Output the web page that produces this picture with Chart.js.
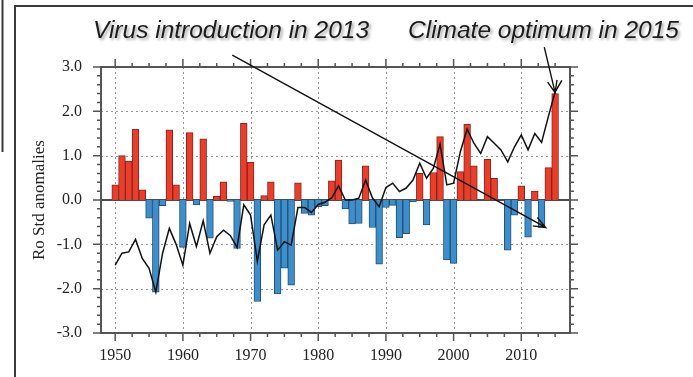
<!DOCTYPE html>
<html>
<head>
<meta charset="utf-8">
<script src="https://cdn.jsdelivr.net/npm/chart.js@4/dist/chart.umd.min.js"></script>
<style>
  html, body { margin: 0; padding: 0; background: #fff; }
  #wrap { width: 693px; height: 377px; position: relative; }
</style>
</head>
<body>
<div id="wrap"><canvas id="chart"></canvas></div>
<script>
// ── DATA ───────────────────────────────────────────────────
const barYears = [];
for (let y = 1950; y <= 2015; y++) barYears.push(y);
const barValues = [
  0.34, 1.0, 0.88, 1.6, 0.23, -0.41, -2.08, -0.13, 1.58, 0.34,
  -1.07, 1.52, -0.11, 1.38, -0.86, 0.08, 0.41, -0.03, -1.09, 1.73,
  0.85, -2.29, 0.1, 0.41, -2.12, -1.54, -1.92, 0.39, -0.3, -0.34,
  -0.15, -0.13, 0.43, 0.9, -0.2, -0.54, -0.53, 0.77, -0.62, -1.45,
  -0.17, -0.12, -0.85, -0.76, -0.04, 0.6, -0.56, 0.62, 1.43, -1.35,
  -1.43, 0.64, 1.71, 0.77, 0.0, 0.92, 0.49, 0.0, -1.13, -0.34,
  0.32, -0.84, 0.2, -0.62, 0.73, 2.4
];
const lineYears = [];
for (let y = 1950; y <= 2016; y++) lineYears.push(y);
const lineValues = [
  -1.47, -1.2, -1.17, -0.89, -1.32, -1.54, -2.08, -1.2, -0.64, -1.0,
  -1.47, -0.53, -1.05, -0.47, -1.2, -0.83, -0.68, -0.8, -1.07, -0.11,
  -0.34, -1.38, -0.56, -0.34, -1.13, -0.94, -1.02, -0.17, -0.17, -0.28,
  -0.1, -0.05, 0.05, 0.32, 0.0, 0.0, 0.04, 0.45, 0.05, -0.15,
  0.28, 0.38, 0.19, 0.27, 0.45, 0.83, 0.49, 0.71, 1.26, 0.34,
  0.38, 1.09, 1.6, 1.28, 1.05, 1.43, 1.28, 1.13, 0.86, 1.2,
  1.47, 1.13, 1.5, 1.3, 1.88, 2.44, 2.7
];
const xTicks = [1950, 1960, 1970, 1980, 1990, 2000, 2010];
const yTicks = [-3, -2, -1, 0, 1, 2, 3];
const yLabel = 'Ro Std anomalies';

// annotations: text + arrows (arrows in data coords: [year, value])
const notes = [
  { text: 'Virus introduction in 2013', x: 93, y: 38, from: [1967.3, 3.27], to: [2013.6, -0.62] },
  { text: 'Climate optimum in 2015', x: 408, y: 38, from: [2013.4, 3.45], to: [2015.0, 2.42] }
];

// ── COLOURS ────────────────────────────────────────────────
const RED = 'rgb(232,62,44)', RED_EDGE = 'rgb(140,35,25)';
const BLUE = 'rgb(62,142,202)', BLUE_EDGE = 'rgb(30,80,125)';
const AXIS = '#555';

// ── PLUGIN: grid, frame, minor ticks, annotations ──────────
function arrow(ctx, x1, y1, x2, y2) {
  const a = Math.atan2(y2 - y1, x2 - x1), len = 13, spread = 0.38;
  ctx.beginPath();
  ctx.moveTo(x1, y1); ctx.lineTo(x2, y2);
  ctx.moveTo(x2 - len * Math.cos(a - spread), y2 - len * Math.sin(a - spread));
  ctx.lineTo(x2, y2);
  ctx.lineTo(x2 - len * Math.cos(a + spread), y2 - len * Math.sin(a + spread));
  ctx.stroke();
}

const framePlugin = {
  id: 'frame',
  beforeDatasetsDraw(chart) {
    const { ctx, chartArea: ca, scales: { x, y } } = chart;
    ctx.save();
    ctx.strokeStyle = 'rgb(150,150,150)';
    ctx.lineWidth = 1;
    ctx.setLineDash([2, 3]);
    xTicks.forEach(v => {
      const px = Math.round(x.getPixelForValue(v)) + 0.5;
      ctx.beginPath(); ctx.moveTo(px, ca.top); ctx.lineTo(px, ca.bottom); ctx.stroke();
    });
    yTicks.filter(v => v !== 0 && Math.abs(v) !== 3).forEach(v => {
      const py = Math.round(y.getPixelForValue(v)) + 0.5;
      ctx.beginPath(); ctx.moveTo(ca.left, py); ctx.lineTo(ca.right, py); ctx.stroke();
    });
    ctx.setLineDash([]);
    // zero line
    const y0 = y.getPixelForValue(0);
    ctx.strokeStyle = '#111';
    ctx.lineWidth = 1.3;
    ctx.beginPath(); ctx.moveTo(ca.left, y0); ctx.lineTo(ca.right, y0); ctx.stroke();
    ctx.restore();
  },
  afterDatasetsDraw(chart) {
    const { ctx, chartArea: ca, scales: { x, y } } = chart;
    ctx.save();
    // plot frame
    ctx.strokeStyle = AXIS;
    ctx.lineWidth = 2;
    ctx.strokeRect(ca.left, ca.top, ca.right - ca.left, ca.bottom - ca.top);
    // ticks (outward) on all sides
    ctx.lineWidth = 1.5;
    ctx.beginPath();
    for (let v = 1947.5; v <= x.max; v += 2.5) {
      if (v < x.min) continue;
      const px = x.getPixelForValue(v);
      const L = (v % 10 === 0) ? 8 : 4;
      ctx.moveTo(px, ca.bottom); ctx.lineTo(px, ca.bottom + L);
      ctx.moveTo(px, ca.top); ctx.lineTo(px, ca.top - L);
    }
    for (let i = -15; i <= 15; i++) {
      const v = i / 5;
      const py = y.getPixelForValue(v);
      const L = (i % 5 === 0) ? 8 : 4;
      ctx.moveTo(ca.left, py); ctx.lineTo(ca.left - L, py);
      ctx.moveTo(ca.right, py); ctx.lineTo(ca.right + L, py);
    }
    ctx.stroke();

    // outer picture border
    ctx.strokeStyle = '#3a3a3a';
    ctx.lineWidth = 2;
    ctx.beginPath();
    ctx.moveTo(15, 377); ctx.lineTo(15, 6); ctx.lineTo(693, 6);
    ctx.moveTo(2.5, 0); ctx.lineTo(2.5, 152);
    ctx.stroke();

    // arrows
    ctx.strokeStyle = '#111';
    ctx.lineWidth = 1.4;
    notes.forEach(n => {
      arrow(ctx,
        x.getPixelForValue(n.from[0]), y.getPixelForValue(n.from[1]),
        x.getPixelForValue(n.to[0]), y.getPixelForValue(n.to[1]));
    });

    // annotation text
    ctx.font = 'italic 24.5px "Liberation Sans", Arial, sans-serif';
    ctx.fillStyle = '#1c1c1c';
    ctx.textBaseline = 'alphabetic';
    ctx.shadowColor = 'rgba(0,0,0,0.35)';
    ctx.shadowBlur = 3;
    ctx.shadowOffsetX = 2;
    ctx.shadowOffsetY = 2;
    notes.forEach(n => ctx.fillText(n.text, n.x, n.y));
    ctx.restore();
  }
};

// ── CHART ──────────────────────────────────────────────────
const serif = '"Liberation Serif", "Times New Roman", serif';

new Chart(document.getElementById('chart'), {
  type: 'bar',
  data: {
    datasets: [
      {
        type: 'line',
        data: lineYears.map((yr, i) => ({ x: yr, y: lineValues[i] })),
        borderColor: '#111',
        borderWidth: 1.5,
        pointRadius: 0,
        tension: 0,
        order: 0,
      },
      {
        type: 'bar',
        data: barYears.map((yr, i) => ({ x: yr, y: barValues[i] })),
        backgroundColor: c => (c.raw && c.raw.y < 0 ? BLUE : RED),
        borderColor: c => (c.raw && c.raw.y < 0 ? BLUE_EDGE : RED_EDGE),
        borderWidth: 1,
        barPercentage: 1,
        categoryPercentage: 1,
        order: 1,
      },
    ],
  },
  options: {
    responsive: true,
    maintainAspectRatio: false,
    animation: false,
    layout: { padding: { top: 67, right: 123, left: 0, bottom: 0 } },
    plugins: { legend: { display: false }, tooltip: { enabled: false } },
    scales: {
      x: {
        type: 'linear',
        offset: false,
        min: 1947.9,
        max: 2017.2,
        grid: { display: false, drawTicks: false, offset: false },
        border: { display: false },
        afterBuildTicks: s => { s.ticks = xTicks.map(v => ({ value: v })); },
        afterFit: s => { s.height = 44; },
        ticks: {
          padding: 13,
          color: '#222',
          font: { family: serif, size: 16 },
          callback: v => String(v),
        },
      },
      y: {
        min: -3,
        max: 3,
        grid: { display: false, drawTicks: false },
        border: { display: false },
        afterBuildTicks: s => { s.ticks = yTicks.map(v => ({ value: v })); },
        afterFit: s => { s.width = 101; },
        ticks: {
          padding: 19,
          color: '#222',
          font: { family: serif, size: 16 },
          callback: v => v.toFixed(1),
        },
        title: {
          display: true,
          text: yLabel,
          color: '#222',
          font: { family: serif, size: 17 },
          padding: { top: 29, bottom: 0 },
        },
      },
    },
  },
  plugins: [framePlugin],
});
</script>
</body>
</html>
